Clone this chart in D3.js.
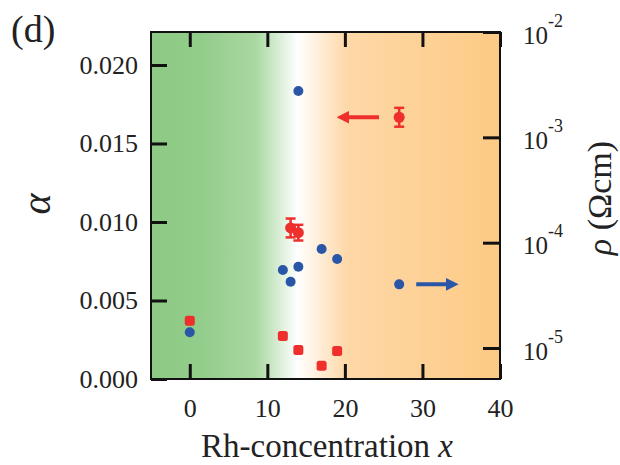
<!DOCTYPE html>
<html>
<head>
<meta charset="utf-8">
<script src="https://cdn.jsdelivr.net/npm/d3@7"></script>
<style>
  body { margin: 0; background: #fff; }
  svg text { font-family: "Liberation Serif", "Times New Roman", serif; fill: #222; }
</style>
</head>
<body>
<svg id="chart" width="620" height="465" font-family="Liberation Serif"></svg>
<script>
// Rh-concentration x, Seebeck-like alpha (left) and resistivity rho (right, log)
var rhoX = [0, 12, 13, 14, 14, 17, 19, 27];
var rhoVal = [1.41e-5, 5.5e-5, 4.26e-5, 2.75e-3, 5.9e-5, 8.7e-5, 7.0e-5, 4.02e-5];

var alphaX = [0, 12, 14, 17, 19];
var alphaVal = [0.00371, 0.00274, 0.00185, 0.00085, 0.00178];

// points with error bars
var alphaErrX = [13, 14, 27];
var alphaErrVal = [0.00962, 0.00932, 0.01667];
var alphaErr = [0.0006, 0.0005, 0.0006];

var xTicks = [0, 10, 20, 30, 40];
var alphaTicks = [0, 0.005, 0.010, 0.015, 0.020];
var rhoTicks = [1e-5, 1e-4, 1e-3, 1e-2];

function init(){
  var svg = d3.select("#chart");

  var left = 151, right = 500, top = 32, bottom = 379;

  var x = d3.scaleLinear().domain([-5, 40]).range([left, right]);
  var yL = d3.scaleLinear().domain([0, 0.0221]).range([bottom, top]);
  var yR = d3.scaleLog().domain([5.08e-6, 1e-2]).range([bottom, top]);

  var red = "#ee2f2b", blue = "#2a56a8";
  var serif = "'Liberation Serif', 'Times New Roman', serif";

  // background gradient green -> white -> orange
  var defs = svg.append("defs");
  var grad = defs.append("linearGradient").attr("id", "bg")
    .attr("x1", "0%").attr("x2", "100%").attr("y1", "0%").attr("y2", "0%");
  grad.append("stop").attr("offset", "0%").attr("stop-color", "#8dca85");
  grad.append("stop").attr("offset", "15%").attr("stop-color", "#93cd8b");
  grad.append("stop").attr("offset", "30%").attr("stop-color", "#a9d8a1");
  grad.append("stop").attr("offset", "42%").attr("stop-color", "#ffffff");
  grad.append("stop").attr("offset", "56%").attr("stop-color", "#fed8a8");
  grad.append("stop").attr("offset", "100%").attr("stop-color", "#fdca84");

  svg.append("rect")
    .attr("x", left).attr("y", top)
    .attr("width", right - left).attr("height", bottom - top)
    .attr("fill", "url(#bg)");

  // axes, ticks pointing inward
  var gl = svg.append("g")
    .attr("transform", "translate(" + left + ",0)")
    .call(d3.axisLeft(yL).tickValues(alphaTicks).tickFormat(d3.format(".3f"))
      .tickSizeInner(-16).tickSizeOuter(0).tickPadding(13));

  var gr = svg.append("g")
    .attr("transform", "translate(" + right + ",0)")
    .call(d3.axisRight(yR).tickValues(rhoTicks).tickFormat(function(){ return ""; })
      .tickSizeInner(-17).tickSizeOuter(0));

  var gb = svg.append("g")
    .attr("transform", "translate(0," + bottom + ")")
    .call(d3.axisBottom(x).tickValues(xTicks)
      .tickSizeInner(-15).tickSizeOuter(0).tickPadding(20));

  var gt = svg.append("g")
    .attr("transform", "translate(0," + top + ")")
    .call(d3.axisTop(x).tickValues(xTicks).tickFormat(function(){ return ""; })
      .tickSizeInner(-15).tickSizeOuter(0));

  [gl, gr, gb, gt].forEach(function(g){
    g.attr("font-family", serif);
    g.select(".domain").remove();
    g.selectAll(".tick line").attr("stroke", "#111").attr("stroke-width", 3);
    g.selectAll(".tick text").style("font-size", "26px").attr("fill", "#222");
  });

  // right tick labels as 10^n
  gr.selectAll(".tick").each(function(d){
    var t = d3.select(this).select("text")
      .attr("x", 23).attr("dy", null).attr("y", 11).attr("text-anchor", "start")
      .style("font-size", "25px");
    t.append("tspan").text("10");
    t.append("tspan").attr("dy", -17).style("font-size", "18px")
      .text("-" + Math.round(-Math.log10(d)));
  });

  // frame
  svg.append("rect")
    .attr("x", left).attr("y", top)
    .attr("width", right - left).attr("height", bottom - top)
    .attr("fill", "none").attr("stroke", "#111").attr("stroke-width", 2);

  // arrowheads
  function arrowHead(id, color){
    defs.append("marker").attr("id", id)
      .attr("viewBox", "0 0 10 10").attr("refX", 6).attr("refY", 5)
      .attr("markerWidth", 3.2).attr("markerHeight", 3.2)
      .attr("markerUnits", "strokeWidth")
      .attr("orient", "auto")
      .append("path").attr("d", "M0,0 L10,5 L0,10 z").attr("fill", color);
  }
  arrowHead("headRed", red);
  arrowHead("headBlue", blue);

  svg.append("line")
    .attr("x1", x(24.4)).attr("x2", x(19.6))
    .attr("y1", yL(0.01667)).attr("y2", yL(0.01667))
    .attr("stroke", red).attr("stroke-width", 4)
    .attr("marker-end", "url(#headRed)");

  svg.append("line")
    .attr("x1", x(29.2)).attr("x2", x(34.0))
    .attr("y1", yR(4.02e-5)).attr("y2", yR(4.02e-5))
    .attr("stroke", blue).attr("stroke-width", 4)
    .attr("marker-end", "url(#headBlue)");

  // blue: resistivity
  svg.append("g").selectAll("circle")
    .data(rhoX)
    .enter().append("circle")
      .attr("cx", function(d){ return x(d); })
      .attr("cy", function(d, i){ return yR(rhoVal[i]); })
      .attr("r", 5)
      .attr("fill", blue);

  // red: alpha
  svg.append("g").selectAll("rect")
    .data(alphaX)
    .enter().append("rect")
      .attr("x", function(d){ return x(d) - 5; })
      .attr("y", function(d, i){ return yL(alphaVal[i]) - 5; })
      .attr("width", 10).attr("height", 10)
      .attr("rx", 2.5)
      .attr("fill", red);

  // red with error bars
  var eg = svg.append("g").selectAll("g")
    .data(alphaErrX)
    .enter().append("g");

  eg.append("line")
    .attr("x1", function(d){ return x(d); }).attr("x2", function(d){ return x(d); })
    .attr("y1", function(d, i){ return yL(alphaErrVal[i] - alphaErr[i]); })
    .attr("y2", function(d, i){ return yL(alphaErrVal[i] + alphaErr[i]); })
    .attr("stroke", red).attr("stroke-width", 2.5);

  [-1, 1].forEach(function(s){
    eg.append("line")
      .attr("x1", function(d){ return x(d) - 5; }).attr("x2", function(d){ return x(d) + 5; })
      .attr("y1", function(d, i){ return yL(alphaErrVal[i] + s * alphaErr[i]); })
      .attr("y2", function(d, i){ return yL(alphaErrVal[i] + s * alphaErr[i]); })
      .attr("stroke", red).attr("stroke-width", 2.5);
  });

  eg.append("circle")
    .attr("cx", function(d){ return x(d); })
    .attr("cy", function(d, i){ return yL(alphaErrVal[i]); })
    .attr("r", 5.5)
    .attr("fill", red);

  // labels
  svg.append("text")
    .attr("x", 11).attr("y", 42)
    .style("font-size", "38px")
    .text("(d)");

  svg.append("text")
    .attr("transform", "translate(50,204) rotate(-90)")
    .attr("text-anchor", "middle")
    .style("font-size", "40px").style("font-style", "italic")
    .text("α");

  var rl = svg.append("text")
    .attr("transform", "translate(611,198) rotate(-90)")
    .attr("text-anchor", "middle")
    .style("font-size", "34px");
  rl.append("tspan").style("font-style", "italic").text("ρ");
  rl.append("tspan").text(" (Ωcm)");

  var xl = svg.append("text")
    .attr("x", 327).attr("y", 457)
    .attr("text-anchor", "middle")
    .style("font-size", "33px");
  xl.append("tspan").text("Rh-concentration ");
  xl.append("tspan").style("font-style", "italic").text("x");
}

window.onload = init;
</script>
</body>
</html>
